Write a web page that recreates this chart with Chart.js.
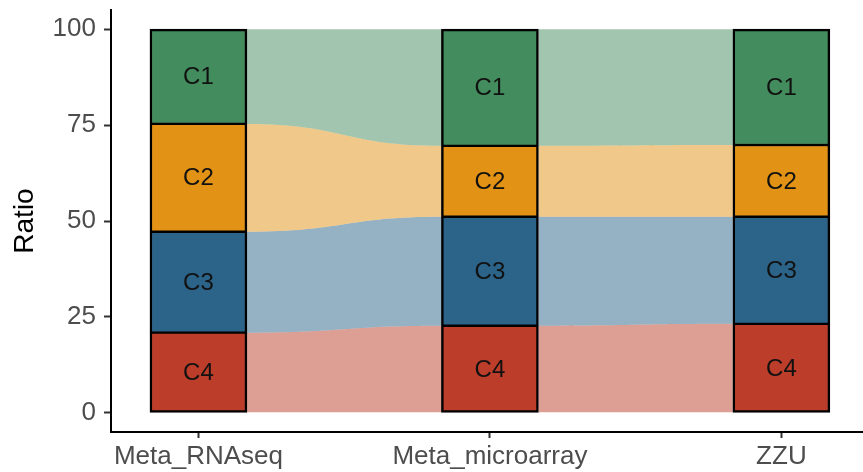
<!DOCTYPE html>
<html lang="en">
<head>
    <meta charset="UTF-8">
    <title>Cluster ratio</title>
    <style>
        html, body { margin: 0; padding: 0; background: #fff; }
        #wrap { width: 863px; height: 472px; }
    </style>
</head>
<body>
    <div id="wrap"><canvas id="myChart"></canvas></div>

    <script src="https://cdn.jsdelivr.net/npm/chart.js"></script>
    <script>
        // data (percent per cohort)
        const cohorts = ['Meta_RNAseq', 'Meta_microarray', 'ZZU'];
        const clusters = ['C4', 'C3', 'C2', 'C1']; // bottom to top
        const c4 = [20.9, 22.7, 23.2];
        const c3 = [26.3, 28.4, 27.9];
        const c2 = [28.1, 18.5, 18.7];
        const c1 = [24.7, 30.4, 30.2];
        const yTicks = [0, 25, 50, 75, 100];

        const colors = {
            C4: [188, 61, 41],
            C3: [44, 99, 137],
            C2: [226, 146, 20],
            C1: [67, 140, 93]
        };
        const rgb = (c, a) => `rgba(${c[0]},${c[1]},${c[2]},${a})`;

        const values = { C4: c4, C3: c3, C2: c2, C1: c1 };

        const datasets = clusters.map((name, k) => ({
            label: name,
            data: values[name].map((v, i) => ({ x: i + 1, y: v })),
            backgroundColor: rgb(colors[name], 1),
            borderColor: '#000',
            borderWidth: {
                left: 2.5, right: 2.5,
                top: k === clusters.length - 1 ? 2.5 : 1.5,
                bottom: k === 0 ? 2.5 : 1.5
            },
            borderSkipped: false,
            barThickness: 97,
            grouped: false
        }));

        // alluvial ribbons between neighbouring bars
        const flowPlugin = {
            id: 'flows',
            beforeDatasetsDraw(chart) {
                const ctx = chart.ctx;
                chart.data.datasets.forEach((ds, d) => {
                    const bars = chart.getDatasetMeta(d).data;
                    ctx.save();
                    ctx.fillStyle = rgb(colors[ds.label], 0.5);
                    for (let i = 0; i < bars.length - 1; i++) {
                        const a = bars[i], b = bars[i + 1];
                        const x0 = a.x + a.width / 2, x1 = b.x - b.width / 2;
                        const mx = (x0 + x1) / 2;
                        ctx.beginPath();
                        ctx.moveTo(x0, a.y);
                        ctx.bezierCurveTo(mx, a.y, mx, b.y, x1, b.y);
                        ctx.lineTo(x1, b.base);
                        ctx.bezierCurveTo(mx, b.base, mx, a.base, x0, a.base);
                        ctx.closePath();
                        ctx.fill();
                    }
                    ctx.restore();
                });
            },
            afterDatasetsDraw(chart) {
                const ctx = chart.ctx;
                ctx.save();
                ctx.font = '24px "Liberation Sans", Arial, sans-serif';
                ctx.fillStyle = '#111';
                ctx.textAlign = 'center';
                ctx.textBaseline = 'middle';
                chart.data.datasets.forEach((ds, d) => {
                    chart.getDatasetMeta(d).data.forEach(el => {
                        ctx.fillText(ds.label, el.x, (el.y + el.base) / 2 + 1);
                    });
                });
                ctx.restore();
            }
        };

        new Chart(document.getElementById('myChart'), {
            type: 'bar',
            data: { datasets: datasets },
            options: {
                responsive: true,
                maintainAspectRatio: false,
                animation: false,
                layout: { padding: { top: 10, right: 0, bottom: 0, left: 0 } },
                plugins: { legend: { display: false }, tooltip: { enabled: false } },
                scales: {
                    x: {
                        type: 'linear',
                        min: 0.7,
                        max: 3.28,
                        offset: false,
                        afterBuildTicks: s => { s.ticks = cohorts.map((c, i) => ({ value: i + 1 })); },
                        afterFit: s => { s.height = 40; s.paddingLeft = 0; s.paddingRight = 0; },
                        ticks: {
                            callback: v => cohorts[v - 1],
                            color: '#4d4d4d',
                            font: { family: '"Liberation Sans", Arial', size: 26 },
                            padding: 3,
                            maxRotation: 0,
                            autoSkip: false
                        },
                        grid: { offset: false, drawOnChartArea: false, tickLength: 6, tickColor: '#333', tickWidth: 2 },
                        border: { color: '#000', width: 2 }
                    },
                    y: {
                        stacked: true,
                        min: -5,
                        max: 105,
                        afterBuildTicks: s => { s.ticks = yTicks.map(v => ({ value: v })); },
                        afterFit: s => { s.width = 111; s.paddingTop = 0; s.paddingBottom = 0; },
                        ticks: {
                            color: '#4d4d4d',
                            font: { family: '"Liberation Sans", Arial', size: 26 },
                            padding: 8
                        },
                        grid: { drawOnChartArea: false, tickLength: 7, tickColor: '#333', tickWidth: 2 },
                        border: { color: '#000', width: 2 },
                        title: {
                            display: true,
                            text: 'Ratio',
                            color: '#000',
                            font: { family: '"Liberation Sans", Arial', size: 28 },
                            padding: { top: 8, bottom: 0 }
                        }
                    }
                }
            },
            plugins: [flowPlugin]
        });
    </script>
</body>
</html>
